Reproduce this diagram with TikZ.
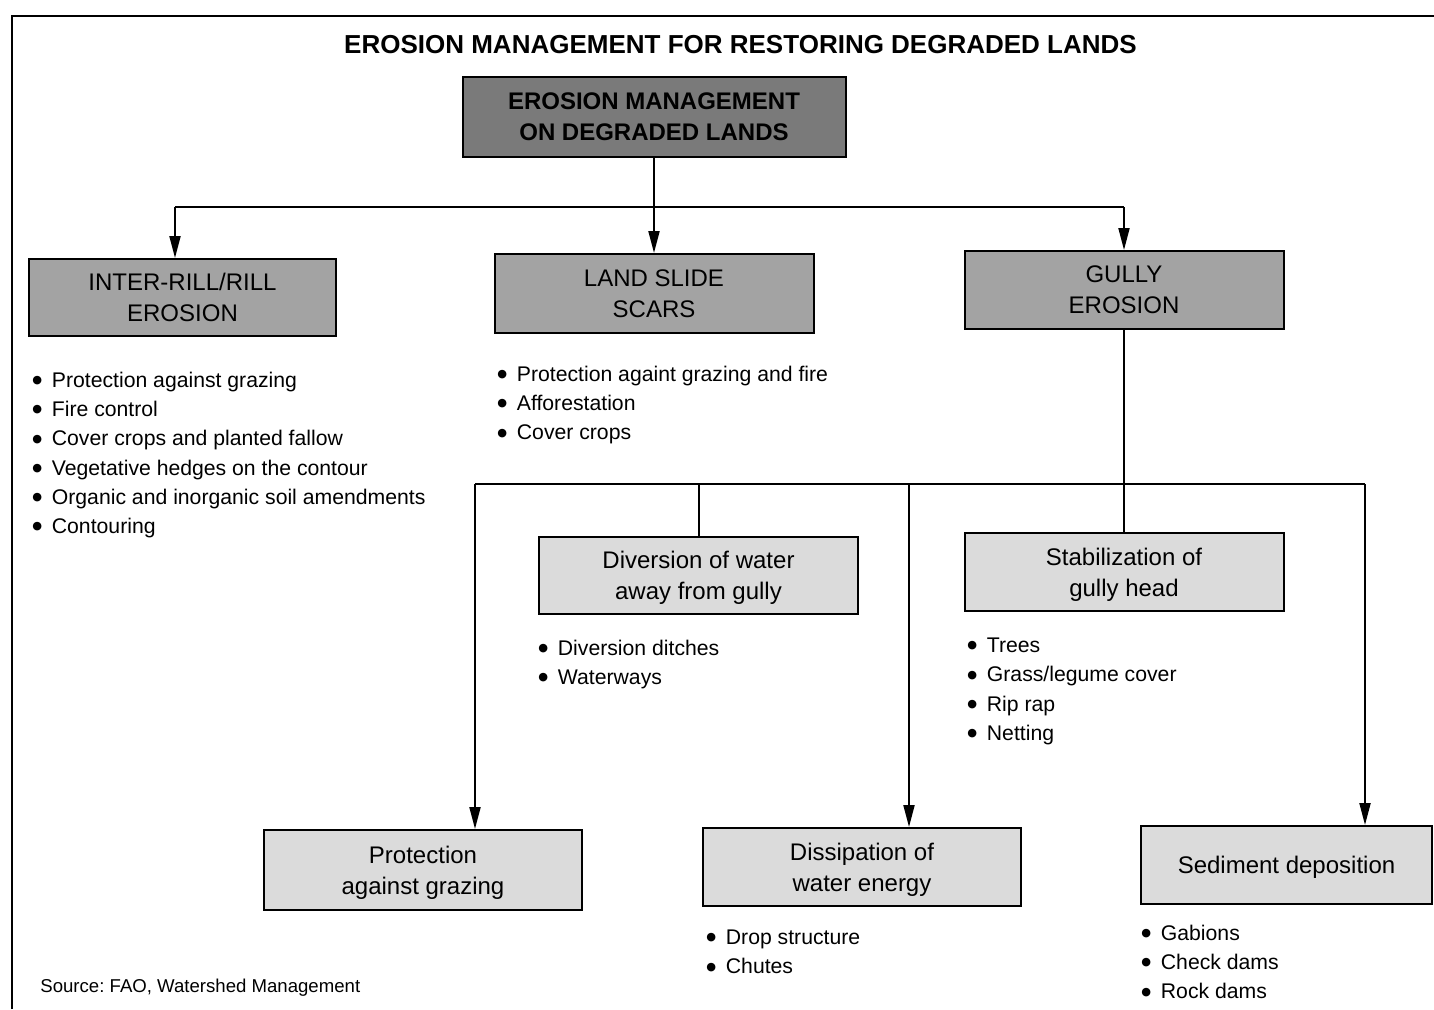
\documentclass[tikz,border=0pt]{standalone}
\usepackage{fontspec}
\setmainfont{Liberation Sans}
\newfontfamily\dejavu{DejaVu Sans}
\usetikzlibrary{arrows.meta}
\newcommand\bulitem{\makebox[9.75pt][l]{\raisebox{1.9pt}{\dejavu\fontsize{5.6}{6}\selectfont ●}}}
\frenchspacing
\begin{document}
\begin{tikzpicture}[x=0.5pt,y=-0.5pt,
  conn/.style={line width=1pt},
  arr/.style={conn,-{Triangle[length=11pt,width=5.5pt]}},
  box/.style={draw,line width=1pt,minimum width=159.5pt,minimum height=39pt,align=center,inner sep=0pt,text depth=0pt,font=\fontsize{12}{15.5}\selectfont},
  lvl1/.style={box,fill=black!52,font=\fontsize{12}{15.5}\selectfont\bfseries},
  lvl2/.style={box,fill=black!36},
  lvl3/.style={box,fill=black!14},
  blist/.style={anchor=north west,inner sep=0pt,align=left,font=\fontsize{10.6}{14.65}\selectfont}]

\useasboundingbox (0,0) rectangle (1434,1009);
\fill[white] (0,0) rectangle (1434,1009);
\draw[line width=1pt] (12,1009) -- (12,16) -- (1434,16);

\node[inner sep=0pt,font=\fontsize{13}{15}\selectfont\bfseries] (title) at (740.5,45) {EROSION MANAGEMENT FOR RESTORING DEGRADED LANDS};

\node[lvl1,minimum width=191.5pt,minimum height=40pt] (top) at (654,117) {EROSION MANAGEMENT\\ON DEGRADED LANDS};
\node[lvl2,minimum width=153.5pt,minimum height=38.5pt] (inter) at (182.5,297.5) {INTER-RILL/RILL\\EROSION};
\node[lvl2,minimum height=39.5pt] (land) at (654,293.5) {LAND SLIDE\\SCARS};
\node[lvl2] (gully) at (1124,290) {GULLY\\EROSION};
\node[lvl3,minimum height=38.5pt] (div) at (698.5,575.5) {Diversion of water\\away from gully};
\node[lvl3] (stab) at (1124,572) {Stabilization of\\gully head};
\node[lvl3,minimum width=159pt,minimum height=40pt] (prot) at (423,870) {Protection\\against grazing};
\node[lvl3,minimum width=159pt] (diss) at (862,867) {Dissipation of\\water energy};
\node[lvl3,minimum width=145.5pt] (sed) at (1286.5,865) {Sediment deposition};

\coordinate (hL) at (175,207);
\coordinate (hR) at (1124,207);
\draw[conn] (top.south) -- (top.south |- hL);
\draw[conn] (hL) -- (hR);
\draw[arr] (hL) -- (hL |- inter.north);
\draw[arr] (top.south |- hL) -- (land.north);
\draw[arr] (hR) -- (gully.north);
\draw[conn] (gully.south) -- (stab.north);

\coordinate (gL) at (475,484);
\coordinate (gD) at (909,484);
\coordinate (gR) at (1365,484);
\draw[conn] (gL) -- (gR);
\draw[arr] (gL) -- (gL |- prot.north);
\draw[conn] (div.north |- gL) -- (div.north);
\draw[arr] (gD) -- (gD |- diss.north);
\draw[arr] (gR) -- (gR |- sed.north);

\node[blist] (l1) at (32,371.5) {\bulitem Protection against grazing\\ \bulitem Fire control\\ \bulitem Cover crops and planted fallow\\ \bulitem Vegetative hedges on the contour\\ \bulitem Organic and inorganic soil amendments\\ \bulitem Contouring};
\node[blist] (l2) at (497,365.5) {\bulitem Protection againt grazing and fire\\ \bulitem Afforestation\\ \bulitem Cover crops};
\node[blist] (l3) at (538,639.5) {\bulitem Diversion ditches\\ \bulitem Waterways};
\node[blist] (l4) at (967,637.5) {\bulitem Trees\\ \bulitem Grass/legume cover\\ \bulitem Rip rap\\ \bulitem Netting};
\node[blist] (l5) at (706,929.5) {\bulitem Drop structure\\ \bulitem Chutes};
\node[blist] (l6) at (1141,924.5) {\bulitem Gabions\\ \bulitem Check dams\\ \bulitem Rock dams};

\node[anchor=base west,inner sep=0pt,font=\fontsize{9.3}{11}\selectfont] (src) at (40,992) {Source: FAO, Watershed Management};
\end{tikzpicture}
\end{document}
